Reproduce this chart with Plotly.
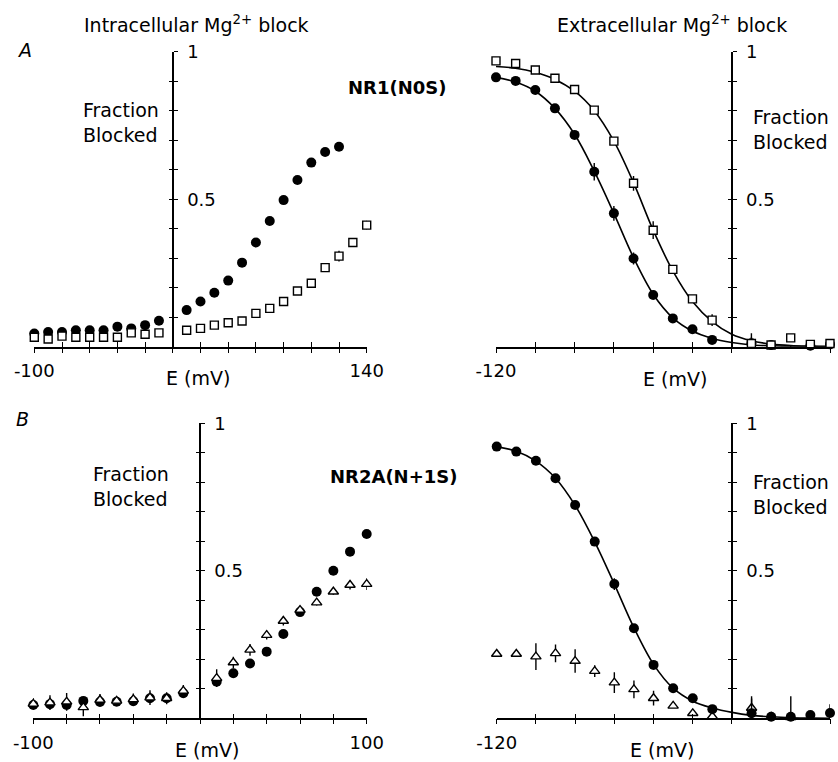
import plotly.graph_objects as go

W, H = 838, 762
FONT = "DejaVu Sans"

# ---------------- data ----------------
# Panel A, intracellular block (NR1(N0S))
xA_in_circ = [-100, -90, -80, -70, -60, -50, -40, -30, -20, -10,
              10, 20, 30, 40, 50, 60, 70, 80, 90, 100, 110, 120]
yA_in_circ = [0.045, 0.05, 0.05, 0.056, 0.056, 0.056, 0.068, 0.062, 0.073, 0.088,
              0.124, 0.153, 0.183, 0.224, 0.285, 0.353, 0.426, 0.497, 0.565, 0.624, 0.66, 0.678]
eA_in_circ = [0, 0, 0, 0, 0, 0, 0, 0, 0, 0,
              0, 0, 0, 0.01, 0.015, 0.01, 0, 0, 0, 0, 0, 0]
xA_in_sq = [-100, -90, -80, -70, -60, -50, -40, -30, -20, -10,
            10, 20, 30, 40, 50, 60, 70, 80, 90, 100, 110, 120, 130, 140]
yA_in_sq = [0.032, 0.026, 0.036, 0.032, 0.032, 0.032, 0.032, 0.047, 0.042, 0.047,
            0.056, 0.062, 0.073, 0.081, 0.087, 0.113, 0.13, 0.153, 0.189, 0.215, 0.268, 0.307, 0.353, 0.412]
eA_in_sq = [0.01, 0, 0, 0, 0, 0, 0, 0, 0, 0,
            0, 0, 0, 0, 0, 0.01, 0, 0, 0.01, 0.012, 0.015, 0.018, 0.015, 0.015]

# Panel A, extracellular block
xA_ex = [-120, -110, -100, -90, -80, -70, -60, -50, -40, -30, -20, -10, 10, 20, 30, 40, 50]
yA_ex_circ = [0.913, 0.901, 0.870, 0.808, 0.718, 0.593, 0.452, 0.299, 0.175, 0.096, 0.059, 0.023,
              0.012, 0.006, -0.005, 0.003, 0.008]
eA_ex_circ = [0, 0, 0, 0, 0, 0.03, 0.025, 0.02, 0, 0, 0, 0, 0.02, 0.01, 0.01, 0.01, 0.01]
yA_ex_sq = [0.969, 0.960, 0.938, 0.910, 0.872, 0.802, 0.697, 0.554, 0.395, 0.262, 0.162, 0.090,
            0.011, 0.006, 0.030, 0.008, 0.011]
eA_ex_sq = [0, 0, 0, 0, 0, 0, 0, 0.025, 0.03, 0, 0, 0.02, 0.035, 0, 0, 0, 0]
xA_fit = [-120, -110, -100, -90, -80, -70, -60, -50, -40, -30, -20, -10, 0, 10, 20, 30, 40, 50]
fA_circ = [0.913, 0.897, 0.866, 0.808, 0.720, 0.595, 0.452, 0.302, 0.178, 0.098, 0.053, 0.028,
           0.014, 0.006, 0.003, 0.001, 0.0005, 0.0]
fA_sq = [0.950, 0.944, 0.930, 0.906, 0.866, 0.800, 0.697, 0.556, 0.395, 0.257, 0.153, 0.085,
         0.042, 0.020, 0.009, 0.004, 0.002, 0.001]

# Panel B, intracellular block (NR2A(N+1S))
xB_in = [-100, -90, -80, -70, -60, -50, -40, -30, -20, -10,
         10, 20, 30, 40, 50, 60, 70, 80, 90, 100]
yB_in_circ = [0.045, 0.048, 0.045, 0.059, 0.055, 0.056, 0.058, 0.068, 0.068, 0.085,
              0.124, 0.153, 0.186, 0.226, 0.286, 0.36, 0.429, 0.50, 0.565, 0.625]
yB_in_tri = [0.049, 0.053, 0.056, 0.037, 0.062, 0.059, 0.064, 0.070, 0.068, 0.093,
             0.136, 0.189, 0.232, 0.282, 0.330, 0.367, 0.392, 0.429, 0.452, 0.455]
eB_in_tri = [0.02, 0.025, 0.03, 0.03, 0.02, 0.01, 0.02, 0.025, 0.02, 0.02,
             0.03, 0.02, 0.02, 0.015, 0.015, 0.01, 0.01, 0.01, 0.015, 0.02]

# Panel B, extracellular block
xB_ex = [-120, -110, -100, -90, -80, -70, -60, -50, -40, -30, -20, -10, 10, 20, 30, 40, 50]
yB_ex_circ = [0.921, 0.904, 0.873, 0.814, 0.723, 0.599, 0.455, 0.305, 0.181, 0.102, 0.068, 0.031,
              0.017, 0.005, 0.005, 0.011, 0.018]
eB_ex_circ = [0, 0, 0, 0, 0, 0.015, 0.02, 0.015, 0, 0, 0, 0, 0.05, 0, 0.07, 0, 0.03]
yB_ex_tri = [0.218, 0.218, 0.209, 0.220, 0.194, 0.160, 0.121, 0.098, 0.068, 0.042, 0.017, 0.006,
             0.035, 0.005, 0.003, -0.016, -0.015]
eB_ex_tri = [0, 0, 0.045, 0.03, 0.04, 0.02, 0.035, 0.03, 0.025, 0, 0, 0,
             0.04, 0.01, 0, 0.03, 0.03]
xB_fit = [-120, -110, -100, -90, -80, -70, -60, -50, -40, -30, -20, -10, 0, 10, 20, 30, 40, 50]
fB_circ = [0.921, 0.905, 0.872, 0.814, 0.722, 0.598, 0.455, 0.307, 0.183, 0.102, 0.058, 0.035,
           0.02, 0.01, 0.005, 0.002, 0.001, 0.0]

# ticks
yticks = [0.1, 0.2, 0.3, 0.4, 0.5, 0.6, 0.7, 0.8, 0.9, 1.0]
yticktext = ["", "", "", "", "0.5", "", "", "", "", "1"]
xticks_A_in = [-100, -80, -60, -40, -20, 0, 20, 40, 60, 80, 100, 120, 140]
xtext_A_in = ["-100"] + [""] * 11 + ["140"]
xticks_ex = [-120, -100, -80, -60, -40, -20, 0, 50]
xtext_ex = ["-120"] + [""] * 6 + ["50"]
xticks_B_in = [-100, -80, -60, -40, -20, 0, 20, 40, 60, 80, 100]
xtext_B_in = ["-100"] + [""] * 9 + ["100"]

# ---------------- figure ----------------
fig = go.Figure()
layout = {}

def add_panel(n, xpx, ypx, xr, tv, tt):
    xd = [xpx[0] / W, xpx[1] / W]
    yd = [1 - ypx[0] / H, 1 - ypx[1] / H]
    ypos = xd[0] + (0 - xr[0]) / (xr[1] - xr[0]) * (xd[1] - xd[0])
    s = "" if n == 1 else str(n)
    common = dict(showgrid=False, zeroline=False, tickcolor="black", tickwidth=1.4,
                  automargin=False)
    # main x axis: ticks upward (inside), labels; overlay gives downward half of tick
    layout["xaxis" + s] = dict(domain=xd, range=xr, anchor="y" + s, showline=True,
                               linecolor="black", linewidth=1.5, ticks="inside", ticklen=5,
                               tickvals=tv, ticktext=tt, ticklabelstandoff=7,
                               tickfont=dict(family=FONT, size=18, color="black"), **common)
    layout["yaxis" + s] = dict(domain=yd, range=[0, 1], anchor="free", position=ypos,
                               side="right", showline=True, linecolor="black", linewidth=1.5,
                               ticks="outside", ticklen=4, tickvals=yticks, ticktext=yticktext,
                               ticklabelstandoff=6,
                               tickfont=dict(family=FONT, size=18, color="black"), **common)
    o = str(n + 4)
    layout["xaxis" + o] = dict(overlaying="x" + s if s else "x", range=xr, anchor="y" + s,
                               ticks="outside", ticklen=5, tickvals=tv, showticklabels=False,
                               showline=False, **common)
    layout["yaxis" + o] = dict(overlaying="y" + s if s else "y", range=[0, 1], anchor="free",
                               position=ypos, side="right", ticks="inside", ticklen=4,
                               tickvals=yticks, showticklabels=False, showline=False, **common)
    fig.add_trace(go.Scatter(x=[], y=[], xaxis="x" + o, yaxis="y" + s, showlegend=False))
    fig.add_trace(go.Scatter(x=[], y=[], xaxis="x" + s, yaxis="y" + o, showlegend=False))
    return "x" + s, "y" + s

def pts(ax, x, y, e, symbol, size, filled):
    xa, ya = ax
    marker = dict(symbol=symbol, size=size, color="black" if filled else "white",
                  line=dict(color="black", width=0 if filled else 1.4))
    fig.add_trace(go.Scatter(x=x, y=y, mode="markers", xaxis=xa, yaxis=ya, marker=marker,
                             cliponaxis=False, showlegend=False,
                             error_y=dict(type="data", array=e, visible=True, color="black",
                                          thickness=1.4, width=0) if e else None))

def curve(ax, x, y):
    xa, ya = ax
    fig.add_trace(go.Scatter(x=x, y=y, mode="lines", xaxis=xa, yaxis=ya,
                             line=dict(color="black", width=1.6, shape="spline"),
                             cliponaxis=False, showlegend=False))

axA_in = add_panel(1, (34.3, 366.7), (346.7, 51.7), [-100, 140], xticks_A_in, xtext_A_in)
axA_ex = add_panel(2, (496.0, 830.0), (346.7, 51.7), [-120, 50], xticks_ex, xtext_ex)
axB_in = add_panel(3, (33.3, 366.7), (718.3, 423.3), [-100, 100], xticks_B_in, xtext_B_in)
axB_ex = add_panel(4, (496.7, 830.0), (718.3, 423.3), [-120, 50], xticks_ex, xtext_ex)

pts(axA_in, xA_in_circ, yA_in_circ, eA_in_circ, "circle", 10, True)
pts(axA_in, xA_in_sq, yA_in_sq, eA_in_sq, "square", 8, False)

curve(axA_ex, xA_fit, fA_circ)
curve(axA_ex, xA_fit, fA_sq)
pts(axA_ex, xA_ex, yA_ex_circ, eA_ex_circ, "circle", 10, True)
pts(axA_ex, xA_ex, yA_ex_sq, eA_ex_sq, "square", 8, False)

pts(axB_in, xB_in, yB_in_circ, None, "circle", 10, True)
pts(axB_in, xB_in, yB_in_tri, eB_in_tri, "triangle-up", 9, False)

curve(axB_ex, xB_fit, fB_circ)
pts(axB_ex, xB_ex, yB_ex_tri, eB_ex_tri, "triangle-up", 9, False)
pts(axB_ex, xB_ex, yB_ex_circ, eB_ex_circ, "circle", 10, True)

# ---------------- annotations ----------------
def ann(text, px, py, size=19, xanchor="center", bold=False, italic=False, align="center"):
    if bold:
        text = "<b>" + text + "</b>"
    if italic:
        text = "<i>" + text + "</i>"
    return dict(text=text, x=px / W, y=1 - py / H, xref="paper", yref="paper",
                xanchor=xanchor, yanchor="middle", showarrow=False, align=align,
                font=dict(family=FONT, size=size, color="black"))

annotations = [
    ann("Intracellular Mg<sup>2+</sup> block", 196, 24),
    ann("Extracellular Mg<sup>2+</sup> block", 672, 24),
    ann("A", 24, 50, italic=True),
    ann("B", 22, 419, italic=True),
    ann("NR1(N0S)", 397, 88, size=18, bold=True),
    ann("NR2A(N+1S)", 393, 476, size=18, bold=True),
    ann("Fraction<br>Blocked", 161, 122, xanchor="right", align="left"),
    ann("Fraction<br>Blocked", 751, 129, xanchor="left", align="left"),
    ann("Fraction<br>Blocked", 171, 486, xanchor="right", align="left"),
    ann("Fraction<br>Blocked", 751, 494, xanchor="left", align="left"),
    ann("E (mV)", 198, 378),
    ann("E (mV)", 675, 379),
    ann("E (mV)", 207, 750),
    ann("E (mV)", 662, 750),
]

fig.update_layout(width=W, height=H, margin=dict(l=0, r=0, t=0, b=0),
                  paper_bgcolor="white", plot_bgcolor="white", showlegend=False,
                  annotations=annotations, **layout)

fig.write_html("out.html")
